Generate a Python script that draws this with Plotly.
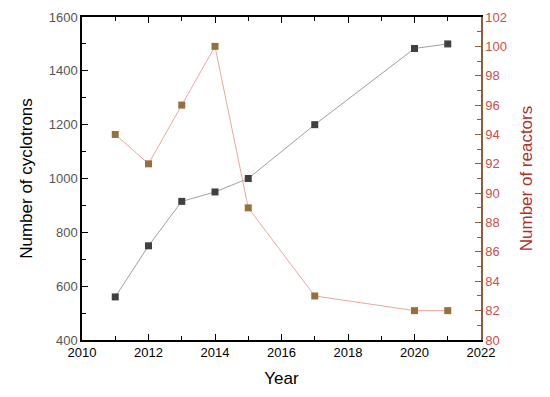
import plotly.graph_objects as go

years = [2011, 2012, 2013, 2014, 2015, 2017, 2020, 2021]
cyclotrons = [560, 750, 915, 950, 1000, 1200, 1483, 1500]
reactors = [94, 92, 96, 100, 89, 83, 82, 82]

FONT = "Liberation Sans, Arial, sans-serif"

fig = go.Figure()
fig.add_trace(go.Scatter(
    x=years, y=cyclotrons, mode="lines+markers", name="Cyclotrons",
    line=dict(color="#a0a0a0", width=1),
    marker=dict(symbol="square", size=7, color="#404040"),
))
fig.add_trace(go.Scatter(
    x=years, y=reactors, mode="lines+markers", name="Reactors", yaxis="y2",
    line=dict(color="#e8a8a0", width=1),
    marker=dict(symbol="square", size=7, color="#95703c"),
))

fig.update_layout(
    width=550, height=397,
    margin=dict(l=82, r=69, t=17, b=57),
    paper_bgcolor="white", plot_bgcolor="white",
    showlegend=False,
    font=dict(family=FONT),
    xaxis=dict(
        range=[2010, 2022], dtick=2, tick0=2010, automargin=False,
        showgrid=False, zeroline=False,
        showline=True, linecolor="black", linewidth=1.5, mirror="ticks",
        ticks="inside", ticklen=6, tickcolor="black",
        minor=dict(dtick=1, ticks="inside", ticklen=4, tickcolor="black"),
        tickfont=dict(size=13, color="black"),
        title=dict(text="Year", font=dict(size=17, color="black"), standoff=13),
    ),
    yaxis=dict(
        range=[400, 1600], dtick=200, automargin=False,
        showgrid=False, zeroline=False,
        showline=True, linecolor="black", linewidth=1.5,
        ticks="inside", ticklen=6, tickcolor="black",
        minor=dict(dtick=100, ticks="inside", ticklen=4, tickcolor="black"),
        tickfont=dict(size=13, color="#555555"),
        title=dict(text="Number of cyclotrons", font=dict(size=17, color="black"), standoff=12),
    ),
    yaxis2=dict(
        range=[80, 102], dtick=2, automargin=False,
        overlaying="y", side="right",
        showgrid=False, zeroline=False,
        showline=True, linecolor="#8b5e3c", linewidth=1.5,
        ticks="inside", ticklen=6, tickcolor="#8b5e3c",
        minor=dict(dtick=1, ticks="inside", ticklen=4, tickcolor="#8b5e3c"),
        tickfont=dict(size=13, color="#c8504a"),
        title=dict(text="Number of reactors", font=dict(size=17, color="#b0302a"), standoff=14),
    ),
)

fig.write_html(
    "out.html",
    config={"displayModeBar": False},
    post_script="document.body.style.margin='0';document.body.style.padding='0';",
)
